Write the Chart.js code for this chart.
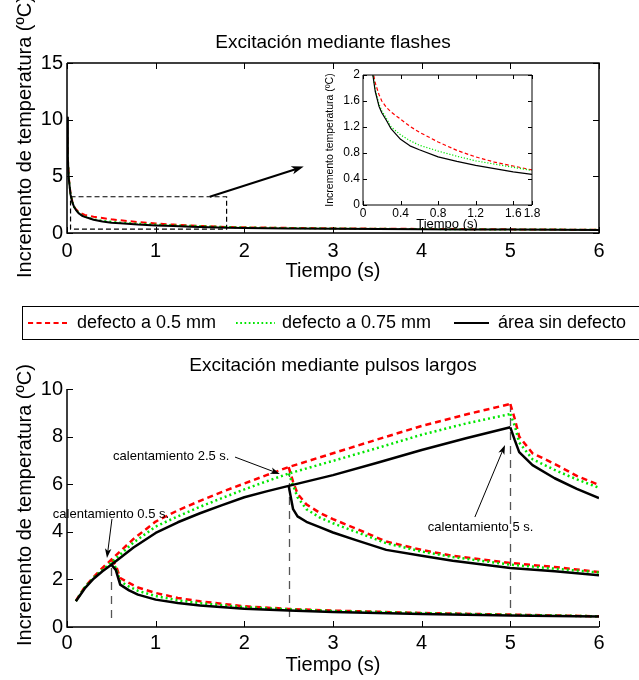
<!DOCTYPE html>
<html><head><meta charset="utf-8">
<script src="https://cdn.jsdelivr.net/npm/chart.js@4.4.1/dist/chart.umd.min.js"></script>
<style>
html,body{margin:0;padding:0;background:#fff;}
body{width:639px;height:680px;position:relative;overflow:hidden;}
canvas{position:absolute;display:block;}
</style></head><body>
<canvas id="cTop" width="639" height="300" style="left:0;top:0;width:639px;height:300px"></canvas>
<canvas id="cBot" width="639" height="385" style="left:0;top:295px;width:639px;height:385px"></canvas>
<canvas id="cIns" width="230" height="180" style="left:320px;top:60px;width:230px;height:180px"></canvas>
<script>
// ---------------- DATA ----------------
const seriesNames = ['defecto a 0.5 mm', 'defecto a 0.75 mm', 'área sin defecto'];

// Flash excitation (top plot + inset)
const flashTime   = [0, 0.01, 0.02, 0.04, 0.06, 0.08, 0.1, 0.13, 0.17, 0.2, 0.25, 0.3, 0.4, 0.5, 0.6, 0.8, 1.0, 1.2, 1.4, 1.6, 1.8, 2.0, 2.5, 3, 3.5, 4, 4.5, 5, 5.5, 6];
const flashDef05  = [10.2, 6.6, 4.9, 3.5, 2.8, 2.35, 2.1, 1.88, 1.7, 1.6, 1.5, 1.43, 1.32, 1.21, 1.12, 0.97, 0.84, 0.74, 0.66, 0.6, 0.54, 0.5, 0.45, 0.41, 0.38, 0.36, 0.34, 0.32, 0.3, 0.29];
const flashDef075 = [10.2, 6.55, 4.85, 3.45, 2.75, 2.3, 2.07, 1.78, 1.55, 1.45, 1.33, 1.2, 1.08, 0.99, 0.92, 0.83, 0.75, 0.68, 0.63, 0.58, 0.53, 0.49, 0.44, 0.4, 0.37, 0.35, 0.33, 0.31, 0.3, 0.29];
const flashSound  = [10.2, 6.5, 4.8, 3.4, 2.7, 2.3, 2.05, 1.75, 1.52, 1.42, 1.3, 1.17, 1.01, 0.91, 0.85, 0.74, 0.67, 0.61, 0.56, 0.51, 0.47, 0.44, 0.4, 0.37, 0.35, 0.33, 0.31, 0.3, 0.28, 0.27];

// Long pulse excitation (bottom plot): heating branch
const heatTime    = [0.1, 0.2, 0.3, 0.4, 0.5, 0.75, 1, 1.25, 1.5, 1.75, 2, 2.25, 2.5, 3, 3.5, 4, 4.5, 5];
const heatDef05   = [1.1, 1.68, 2.1, 2.48, 2.83, 3.7, 4.43, 4.9, 5.3, 5.68, 6.03, 6.38, 6.72, 7.3, 7.88, 8.45, 8.93, 9.37];
const heatDef075  = [1.09, 1.66, 2.07, 2.4, 2.71, 3.55, 4.22, 4.65, 5.05, 5.42, 5.78, 6.12, 6.45, 6.98, 7.52, 8.08, 8.55, 8.95];
const heatSound   = [1.08, 1.62, 2.03, 2.34, 2.62, 3.34, 3.95, 4.4, 4.78, 5.12, 5.45, 5.7, 5.93, 6.38, 6.9, 7.44, 7.93, 8.39];
// cooling after 0.5 s pulse
const cool05Time  = [0.5, 0.55, 0.6, 0.7, 0.8, 1, 1.25, 1.5, 2, 2.5, 3, 4, 5, 6];
const cool05Def05 = [2.83, 2.6, 2.06, 1.85, 1.66, 1.43, 1.22, 1.08, 0.87, 0.76, 0.69, 0.59, 0.52, 0.45];
const cool05Def075= [2.71, 2.5, 1.92, 1.7, 1.52, 1.3, 1.12, 1.0, 0.83, 0.74, 0.67, 0.58, 0.51, 0.45];
const cool05Sound = [2.62, 2.4, 1.78, 1.54, 1.36, 1.15, 1.01, 0.9, 0.77, 0.69, 0.63, 0.55, 0.48, 0.44];
// cooling after 2.5 s pulse
const cool25Time  = [2.5, 2.55, 2.6, 2.7, 2.85, 3, 3.25, 3.6, 4, 4.35, 5, 5.5, 6];
const cool25Def05 = [6.72, 6.1, 5.6, 5.15, 4.8, 4.53, 4.15, 3.59, 3.24, 2.99, 2.69, 2.52, 2.31];
const cool25Def075= [6.45, 5.95, 5.45, 4.95, 4.6, 4.36, 4.01, 3.52, 3.17, 2.94, 2.62, 2.45, 2.29];
const cool25Sound = [5.93, 4.95, 4.65, 4.42, 4.2, 3.97, 3.66, 3.24, 2.99, 2.78, 2.48, 2.34, 2.17];
// cooling after 5 s pulse
const cool5Time   = [5, 5.05, 5.1, 5.25, 5.5, 5.75, 6];
const cool5Def05  = [9.37, 8.75, 8.0, 7.3, 6.85, 6.35, 5.97];
const cool5Def075 = [8.95, 8.45, 7.75, 7.05, 6.6, 6.2, 5.85];
const cool5Sound  = [8.39, 7.85, 7.35, 6.8, 6.25, 5.8, 5.42];

const pulseDurations = [0.5, 2.5, 5];

// tick values
const timeTicks     = [0, 1, 2, 3, 4, 5, 6];
const flashTempTicks= [0, 5, 10, 15];
const pulseTempTicks= [0, 2, 4, 6, 8, 10];
const insetTimeTicks= [0, 0.4, 0.8, 1.2, 1.6, 1.8];
const insetTempTicks= [0, 0.4, 0.8, 1.2, 1.6, 2];

// ---------------- STYLE ----------------
const FONT = '"Liberation Sans", Arial, Helvetica, sans-serif';
const seriesStyles = [
  {color:'#ff0000', dash:[6,4]},
  {color:'#00e600', dash:[2,3]},
  {color:'#000000', dash:[]}
];

function xy(xs, ys){ return xs.map((x,i)=>({x:x, y:ys[i]})); }
function ds(xs, ys, k, lw, dashScale){
  const s = seriesStyles[k];
  return {label: seriesNames[k], data: xy(xs, ys), borderColor: s.color, borderWidth: lw,
    borderDash: s.dash.map(v=>v*(dashScale||1)), pointRadius: 0, fill: false, tension: 0,
    borderCapStyle: 'butt', borderJoinStyle: 'round'};
}
// black first so it is drawn on top
function flashSets(lw, dsc){
  return [ds(flashTime, flashSound, 2, lw, dsc), ds(flashTime, flashDef075, 1, lw, dsc), ds(flashTime, flashDef05, 0, lw, dsc)];
}
const pulseSets = [];
[[heatTime, heatSound, heatDef075, heatDef05],
 [cool05Time, cool05Sound, cool05Def075, cool05Def05],
 [cool25Time, cool25Sound, cool25Def075, cool25Def05],
 [cool5Time, cool5Sound, cool5Def075, cool5Def05]].forEach(g=>{
   pulseSets.push(ds(g[0], g[1], 2, 2.5));
});
[[heatTime, heatDef075],[cool05Time, cool05Def075],[cool25Time, cool25Def075],[cool5Time, cool5Def075]].forEach(g=>pulseSets.push(ds(g[0], g[1], 1, 2.5)));
[[heatTime, heatDef05],[cool05Time, cool05Def05],[cool25Time, cool25Def05],[cool5Time, cool5Def05]].forEach(g=>pulseSets.push(ds(g[0], g[1], 0, 2.5)));

function txt(ctx, s, x, y, size, align, rot){
  ctx.save(); ctx.translate(x, y); if (rot) ctx.rotate(rot);
  ctx.font = size + 'px ' + FONT; ctx.fillStyle = '#000';
  ctx.textAlign = align || 'center'; ctx.textBaseline = 'middle';
  ctx.fillText(s, 0, 0); ctx.restore();
}
function arrow(ctx, x1, y1, x2, y2, lw, head){
  ctx.save(); ctx.strokeStyle = '#000'; ctx.fillStyle = '#000'; ctx.lineWidth = lw; ctx.setLineDash([]);
  const ang = Math.atan2(y2 - y1, x2 - x1);
  ctx.beginPath(); ctx.moveTo(x1, y1); ctx.lineTo(x2 - Math.cos(ang)*head*0.6, y2 - Math.sin(ang)*head*0.6); ctx.stroke();
  ctx.beginPath(); ctx.moveTo(x2, y2);
  ctx.lineTo(x2 - head*Math.cos(ang - 0.33), y2 - head*Math.sin(ang - 0.33));
  ctx.lineTo(x2 - head*0.7*Math.cos(ang), y2 - head*0.7*Math.sin(ang));
  ctx.lineTo(x2 - head*Math.cos(ang + 0.33), y2 - head*Math.sin(ang + 0.33));
  ctx.closePath(); ctx.fill(); ctx.restore();
}
function frame(chart, box, len, lw){
  const {ctx, chartArea: a, scales: {x, y}} = chart;
  ctx.save(); ctx.strokeStyle = '#000'; ctx.lineWidth = lw; ctx.setLineDash([]);
  const L = a.left, R = a.right, T = a.top, B = a.bottom;
  ctx.beginPath();
  ctx.moveTo(L, T); ctx.lineTo(L, B); ctx.lineTo(R, B);
  if (box) { ctx.lineTo(R, T); ctx.lineTo(L, T); }
  ctx.stroke();
  ctx.lineWidth = 1; ctx.beginPath();
  x.ticks.forEach(t => { const p = Math.round(x.getPixelForValue(t.value)) + 0.5;
    ctx.moveTo(p, B); ctx.lineTo(p, B - len); if (box) { ctx.moveTo(p, T); ctx.lineTo(p, T + len); } });
  y.ticks.forEach(t => { const p = Math.round(y.getPixelForValue(t.value)) + 0.5;
    ctx.moveTo(L, p); ctx.lineTo(L + len, p); if (box) { ctx.moveTo(R, p); ctx.lineTo(R - len, p); } });
  ctx.stroke(); ctx.restore();
}

function makeChart(id, c){
  return new Chart(document.getElementById(id), {
    type: 'line',
    data: { datasets: c.datasets },
    options: {
      responsive: false, animation: false, devicePixelRatio: 1, events: [],
      layout: { padding: c.padding },
      plugins: { legend: {display: false}, title: {display: false}, tooltip: {enabled: false} },
      scales: {
        x: { type: 'linear', min: c.xr[0], max: c.xr[1],
          afterBuildTicks: s => { s.ticks = c.xt.map(v => ({value: v})); },
          afterFit: s => { s.height = c.xh; },
          grid: {display: false, drawTicks: false}, border: {display: false},
          ticks: {autoSkip: false, maxRotation: 0, minRotation: 0, padding: c.xpad, color: '#000',
            font: {family: FONT, size: c.fs}, callback: v => String(v)} },
        y: { type: 'linear', min: c.yr[0], max: c.yr[1],
          afterBuildTicks: s => { s.ticks = c.yt.map(v => ({value: v})); },
          afterFit: s => { s.width = c.yw; },
          grid: {display: false, drawTicks: false}, border: {display: false},
          ticks: {autoSkip: false, padding: c.ypad, color: '#000',
            font: {family: FONT, size: c.fs}, callback: v => String(v)} }
      }
    },
    plugins: [c.plugin]
  });
}

// ---------------- TOP CHART ----------------
makeChart('cTop', {
  datasets: flashSets(2, 1),
  padding: {left: 0, top: 63, right: 40, bottom: 27},
  xr: [0, 6], yr: [0, 15], xt: timeTicks, yt: flashTempTicks,
  xh: 40, yw: 67, xpad: 6, ypad: 4, fs: 20,
  plugin: {
    id: 'topDeco',
    afterDraw(chart){
      const {ctx, scales: {x, y}} = chart;
      frame(chart, true, 6, 1.5);
      txt(ctx, 'Excitación mediante flashes', 333, 43, 19);
      txt(ctx, 'Incremento de temperatura (ºC)', 25, 137, 20, 'center', -Math.PI/2);
      txt(ctx, 'Tiempo (s)', 333, 271, 20);
      // zoom rectangle (data coordinates)
      const zr = {x0: 0.04, x1: 1.8, y0: 0.35, y1: 3.2};
      ctx.save(); ctx.strokeStyle = '#000'; ctx.lineWidth = 1.2; ctx.setLineDash([5, 3]);
      const px0 = x.getPixelForValue(zr.x0), px1 = x.getPixelForValue(zr.x1);
      const py0 = y.getPixelForValue(zr.y0), py1 = y.getPixelForValue(zr.y1);
      ctx.strokeRect(px0, py1, px1 - px0, py0 - py1); ctx.restore();
      arrow(ctx, x.getPixelForValue(1.61), y.getPixelForValue(3.2), x.getPixelForValue(2.67), y.getPixelForValue(5.86), 2, 13);
    }
  }
});

// ---------------- INSET ----------------
makeChart('cIns', {
  datasets: flashSets(1.2, 0.6),
  padding: {left: 0, top: 15, right: 18, bottom: 15},
  xr: [0, 1.8], yr: [0, 2], xt: insetTimeTicks, yt: insetTempTicks,
  xh: 20, yw: 43, xpad: 1, ypad: 3, fs: 12,
  plugin: {
    id: 'insDeco',
    beforeDatasetsDraw(chart){
      const {ctx, chartArea: a} = chart;
      ctx.save(); ctx.fillStyle = '#fff'; ctx.fillRect(a.left, a.top, a.right - a.left, a.bottom - a.top); ctx.restore();
    },
    afterDraw(chart){
      const {ctx} = chart;
      frame(chart, true, 4, 1);
      ctx.save(); ctx.translate(-320, -60);
      txt(ctx, 'Incremento temperatura (ºC)', 330, 140, 10.5, 'center', -Math.PI/2);
      txt(ctx, 'Tiempo (s)', 447, 224, 13);
      ctx.restore();
    }
  }
});

// ---------------- BOTTOM CHART ----------------
makeChart('cBot', {
  datasets: pulseSets,
  padding: {left: 0, top: 94, right: 40, bottom: 13},
  xr: [0, 6], yr: [0, 10], xt: timeTicks, yt: pulseTempTicks,
  xh: 40, yw: 67, xpad: 4, ypad: 4, fs: 20,
  plugin: {
    id: 'botDeco',
    beforeDatasetsDraw(chart){
      const {ctx, scales: {x, y}} = chart;
      const ext = [[0.38, 2.52], [0.42, 6.75], [0.8, 9.47]];
      ctx.save(); ctx.strokeStyle = '#555'; ctx.lineWidth = 1.3; ctx.setLineDash([8, 6]);
      pulseDurations.forEach((d, i) => {
        const px = Math.round(x.getPixelForValue(d)) + 0.5;
        ctx.beginPath(); ctx.moveTo(px, y.getPixelForValue(ext[i][0])); ctx.lineTo(px, y.getPixelForValue(ext[i][1])); ctx.stroke();
      });
      ctx.restore();
    },
    afterDraw(chart){
      const {ctx, scales: {x, y}} = chart;
      frame(chart, false, 6, 1.5);
      // annotations
      const notes = [
        {text: 'calentamiento 0.5 s.', tx: -0.16, ty: 4.75, from: [0.507, 4.54], to: [0.451, 2.9]},
        {text: 'calentamiento 2.5 s.', tx: 0.52, ty: 7.18, from: [1.895, 7.14], to: [2.40, 6.43]},
        {text: 'calentamiento 5 s.',   tx: 4.07, ty: 4.2,  from: [4.60, 4.62], to: [4.94, 7.65]}
      ];
      notes.forEach(n => {
        txt(ctx, n.text, x.getPixelForValue(n.tx), y.getPixelForValue(n.ty), 13, 'left');
        arrow(ctx, x.getPixelForValue(n.from[0]), y.getPixelForValue(n.from[1]), x.getPixelForValue(n.to[0]), y.getPixelForValue(n.to[1]), 1, 10);
      });
      ctx.save(); ctx.translate(0, -295);
      txt(ctx, 'Excitación mediante pulsos largos', 333, 366, 19);
      txt(ctx, 'Incremento de temperatura (ºC)', 25, 505, 20, 'center', -Math.PI/2);
      txt(ctx, 'Tiempo (s)', 333, 665, 20);
      // legend
      ctx.strokeStyle = '#000'; ctx.lineWidth = 1; ctx.setLineDash([]);
      ctx.strokeRect(22.5, 306.5, 700, 33);
      const items = [{x0: 28, x1: 67, tx: 77}, {x0: 236, x1: 275, tx: 282}, {x0: 454, x1: 489, tx: 498}];
      const ly = 323;
      items.forEach((it, k) => {
        const s = seriesStyles[k];
        ctx.save(); ctx.strokeStyle = s.color; ctx.lineWidth = 2; ctx.setLineDash(s.dash.map(v => v * 0.85));
        ctx.beginPath(); ctx.moveTo(it.x0, ly); ctx.lineTo(it.x1, ly); ctx.stroke(); ctx.restore();
        txt(ctx, seriesNames[k], it.tx, ly, 18, 'left');
      });
      ctx.restore();
    }
  }
});
</script>
</body></html>
